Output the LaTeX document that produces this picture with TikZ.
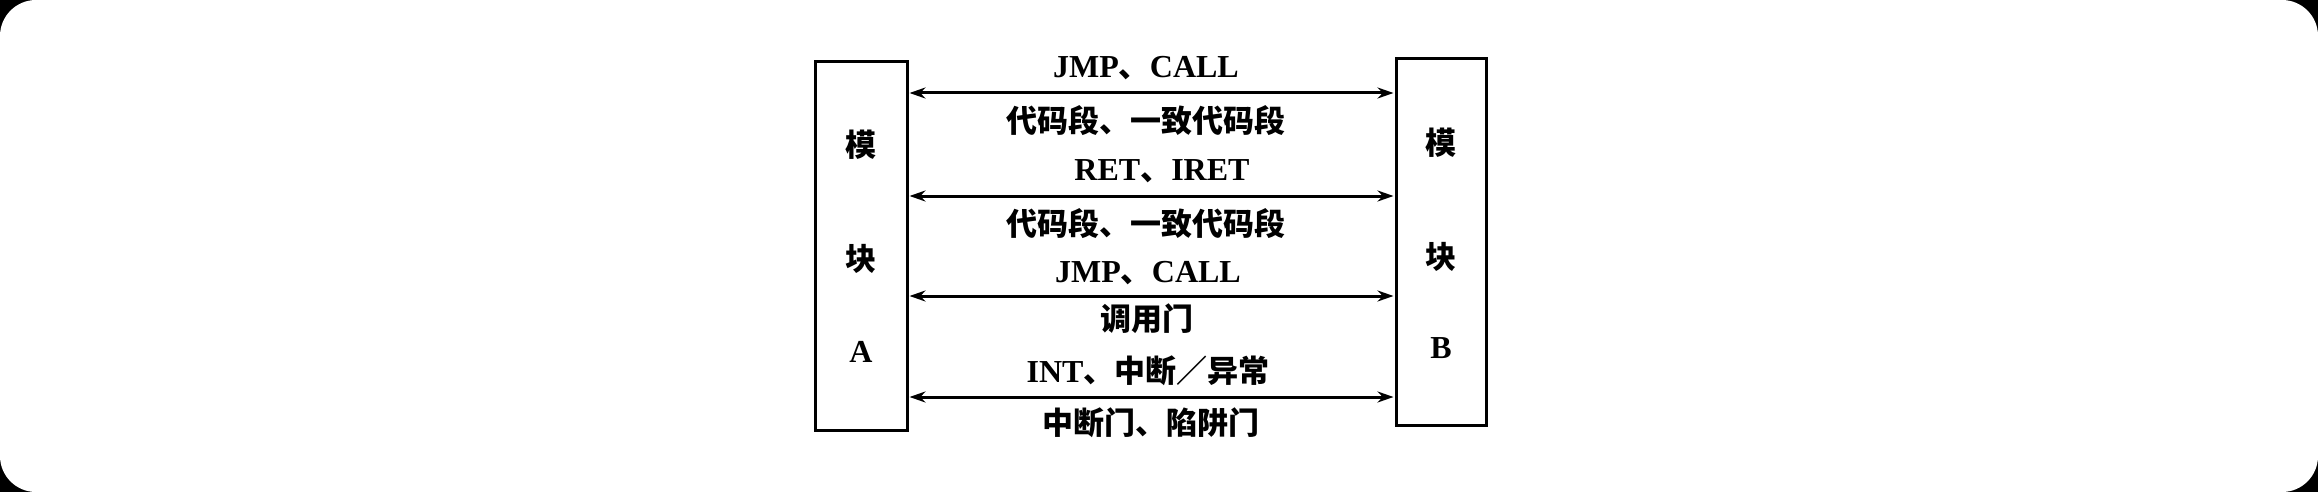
\documentclass[tikz,border=0pt]{standalone}
\usepackage{fontspec}
\setmainfont{Liberation Serif}
\newfontfamily\cjk{Noto Sans CJK SC}
\usetikzlibrary{arrows.meta}
\newcommand\zh[1]{{\fontsize{31}{36}\selectfont\cjk\bfseries #1}}
\tikzset{
  modbox/.style={draw, line width=3pt, minimum width=92pt, minimum height=368pt, inner sep=0pt},
  lab/.style={font=\fontsize{32}{36}\selectfont\bfseries, inner sep=0pt},
  arr/.style={line width=3pt, {Stealth[length=16pt,width=11pt]}-{Stealth[length=16pt,width=11pt]}, shorten <=1pt, shorten >=1pt},
}
\begin{document}
\begin{tikzpicture}[x=1pt,y=-1pt]
\fill[black] (0,0) rectangle (2318,492);
\fill[white, rounded corners=36pt] (0,0) rectangle (2318,492);
\useasboundingbox (0,0) rectangle (2318,492);

\node[modbox] (A) at (861,246) {};
\node[modbox, minimum width=90pt, minimum height=366pt] (B) at (1441,242) {};

% box labels
\node[lab] (a1) at (861,145) {\zh{模}};
\node[lab] (a2) at (861,259) {\zh{块}};
\node[lab, anchor=base] (a3) at (861,362) {A};
\node[lab] (b1) at (1441,143) {\zh{模}};
\node[lab] (b2) at (1441,257) {\zh{块}};
\node[lab, anchor=base] (b3) at (1441,358) {B};

% arrow levels
\coordinate (y1) at (0,93);
\coordinate (y2) at (0,196);
\coordinate (y3) at (0,296);
\coordinate (y4) at (0,397);
\draw[arr] (A.east |- y1) -- (B.west |- y1);
\draw[arr] (A.east |- y2) -- (B.west |- y2);
\draw[arr] (A.east |- y3) -- (B.west |- y3);
\draw[arr] (A.east |- y4) -- (B.west |- y4);

% labels
\node[lab, anchor=base] (t1) at (1146,78) {JMP\zh{、}CALL};
\node[lab] (t2) at (1146,121) {\zh{代码段、一致代码段}};
\node[lab, anchor=base] (t3) at (1162,180) {RET\zh{、}IRET};
\node[lab] (t4) at (1146,224) {\zh{代码段、一致代码段}};
\node[lab, anchor=base] (t5) at (1148,282) {JMP\zh{、}CALL};
\node[lab] (t6) at (1147,319) {\zh{调用门}};
\node[lab, anchor=base] (t7) at (1148,382) {INT\zh{、中断／异常}};
\node[lab] (t8) at (1151,423) {\zh{中断门、陷阱门}};
\end{tikzpicture}
\end{document}
